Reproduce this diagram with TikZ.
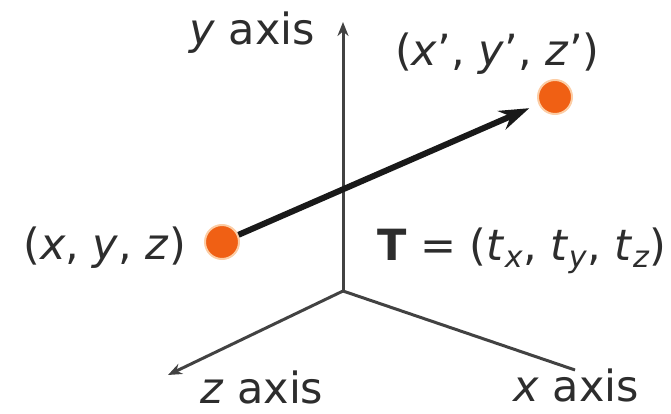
\documentclass[tikz,border=0pt]{standalone}
\usepackage{fontspec}
\setmainfont{DejaVu Sans}
\usetikzlibrary{arrows.meta, positioning}
\definecolor{dotorange}{RGB}{240,96,20}
\definecolor{dothalo}{RGB}{252,205,165}
\definecolor{inkgray}{RGB}{45,45,45}

\begin{document}
\begin{tikzpicture}[
    x=1pt, y=-1pt,
    node distance=6pt,
    axis/.style={line width=3pt, draw=inkgray!90},
    axisarrow/.style={axis, -{Stealth[length=14pt, width=11pt]}},
    point/.style={circle, fill=dotorange, draw=dothalo, line width=2pt, minimum size=34pt, inner sep=0pt},
    lbl/.style={font=\fontsize{43}{50}\selectfont, inner sep=0pt, text=inkgray},
    vec/.style={line width=6pt, draw=black!90, -{Stealth[length=30pt, width=20pt]}, shorten >=10pt}
]
    \useasboundingbox (0,0) rectangle (671,414);
    \coordinate (O) at (343,291);
    \coordinate (yend) at (343,22);
    \coordinate (zend) at (168,375);
    \coordinate (xend) at (575,370);

    \node[point] (p) at (222,242) {};
    \node[point] (q) at (555,97) {};

    \draw[axisarrow] (O) -- (yend);
    \draw[axisarrow] (O) -- (zend);
    \draw[axis] (O) -- (xend);
    \draw[vec] (p) -- (q);

    \node[lbl, anchor=base east] (ylabel) at (315,45) {\textit{y} axis};
    \node[lbl, anchor=base west] (zlabel) at (200,403) {\textit{z} axis};
    \node[lbl, anchor=base west] (xlabel) at (513,401) {\textit{x} axis};
    \node[lbl, anchor=base east] (plabel) at (186,259) {(\textit{x}, \textit{y}, \textit{z})};
    \node[lbl, anchor=base west] (qlabel) at (395,66) {(\textit{x}', \textit{y}', \textit{z}')};
    \node[lbl, anchor=base west] (tlabel) at (377,260)
        {\textbf{T} = (\textit{t}\textsubscript{\textit{x}}, \textit{t}\textsubscript{\textit{y}}, \textit{t}\textsubscript{\textit{z}})};
\end{tikzpicture}
\end{document}
